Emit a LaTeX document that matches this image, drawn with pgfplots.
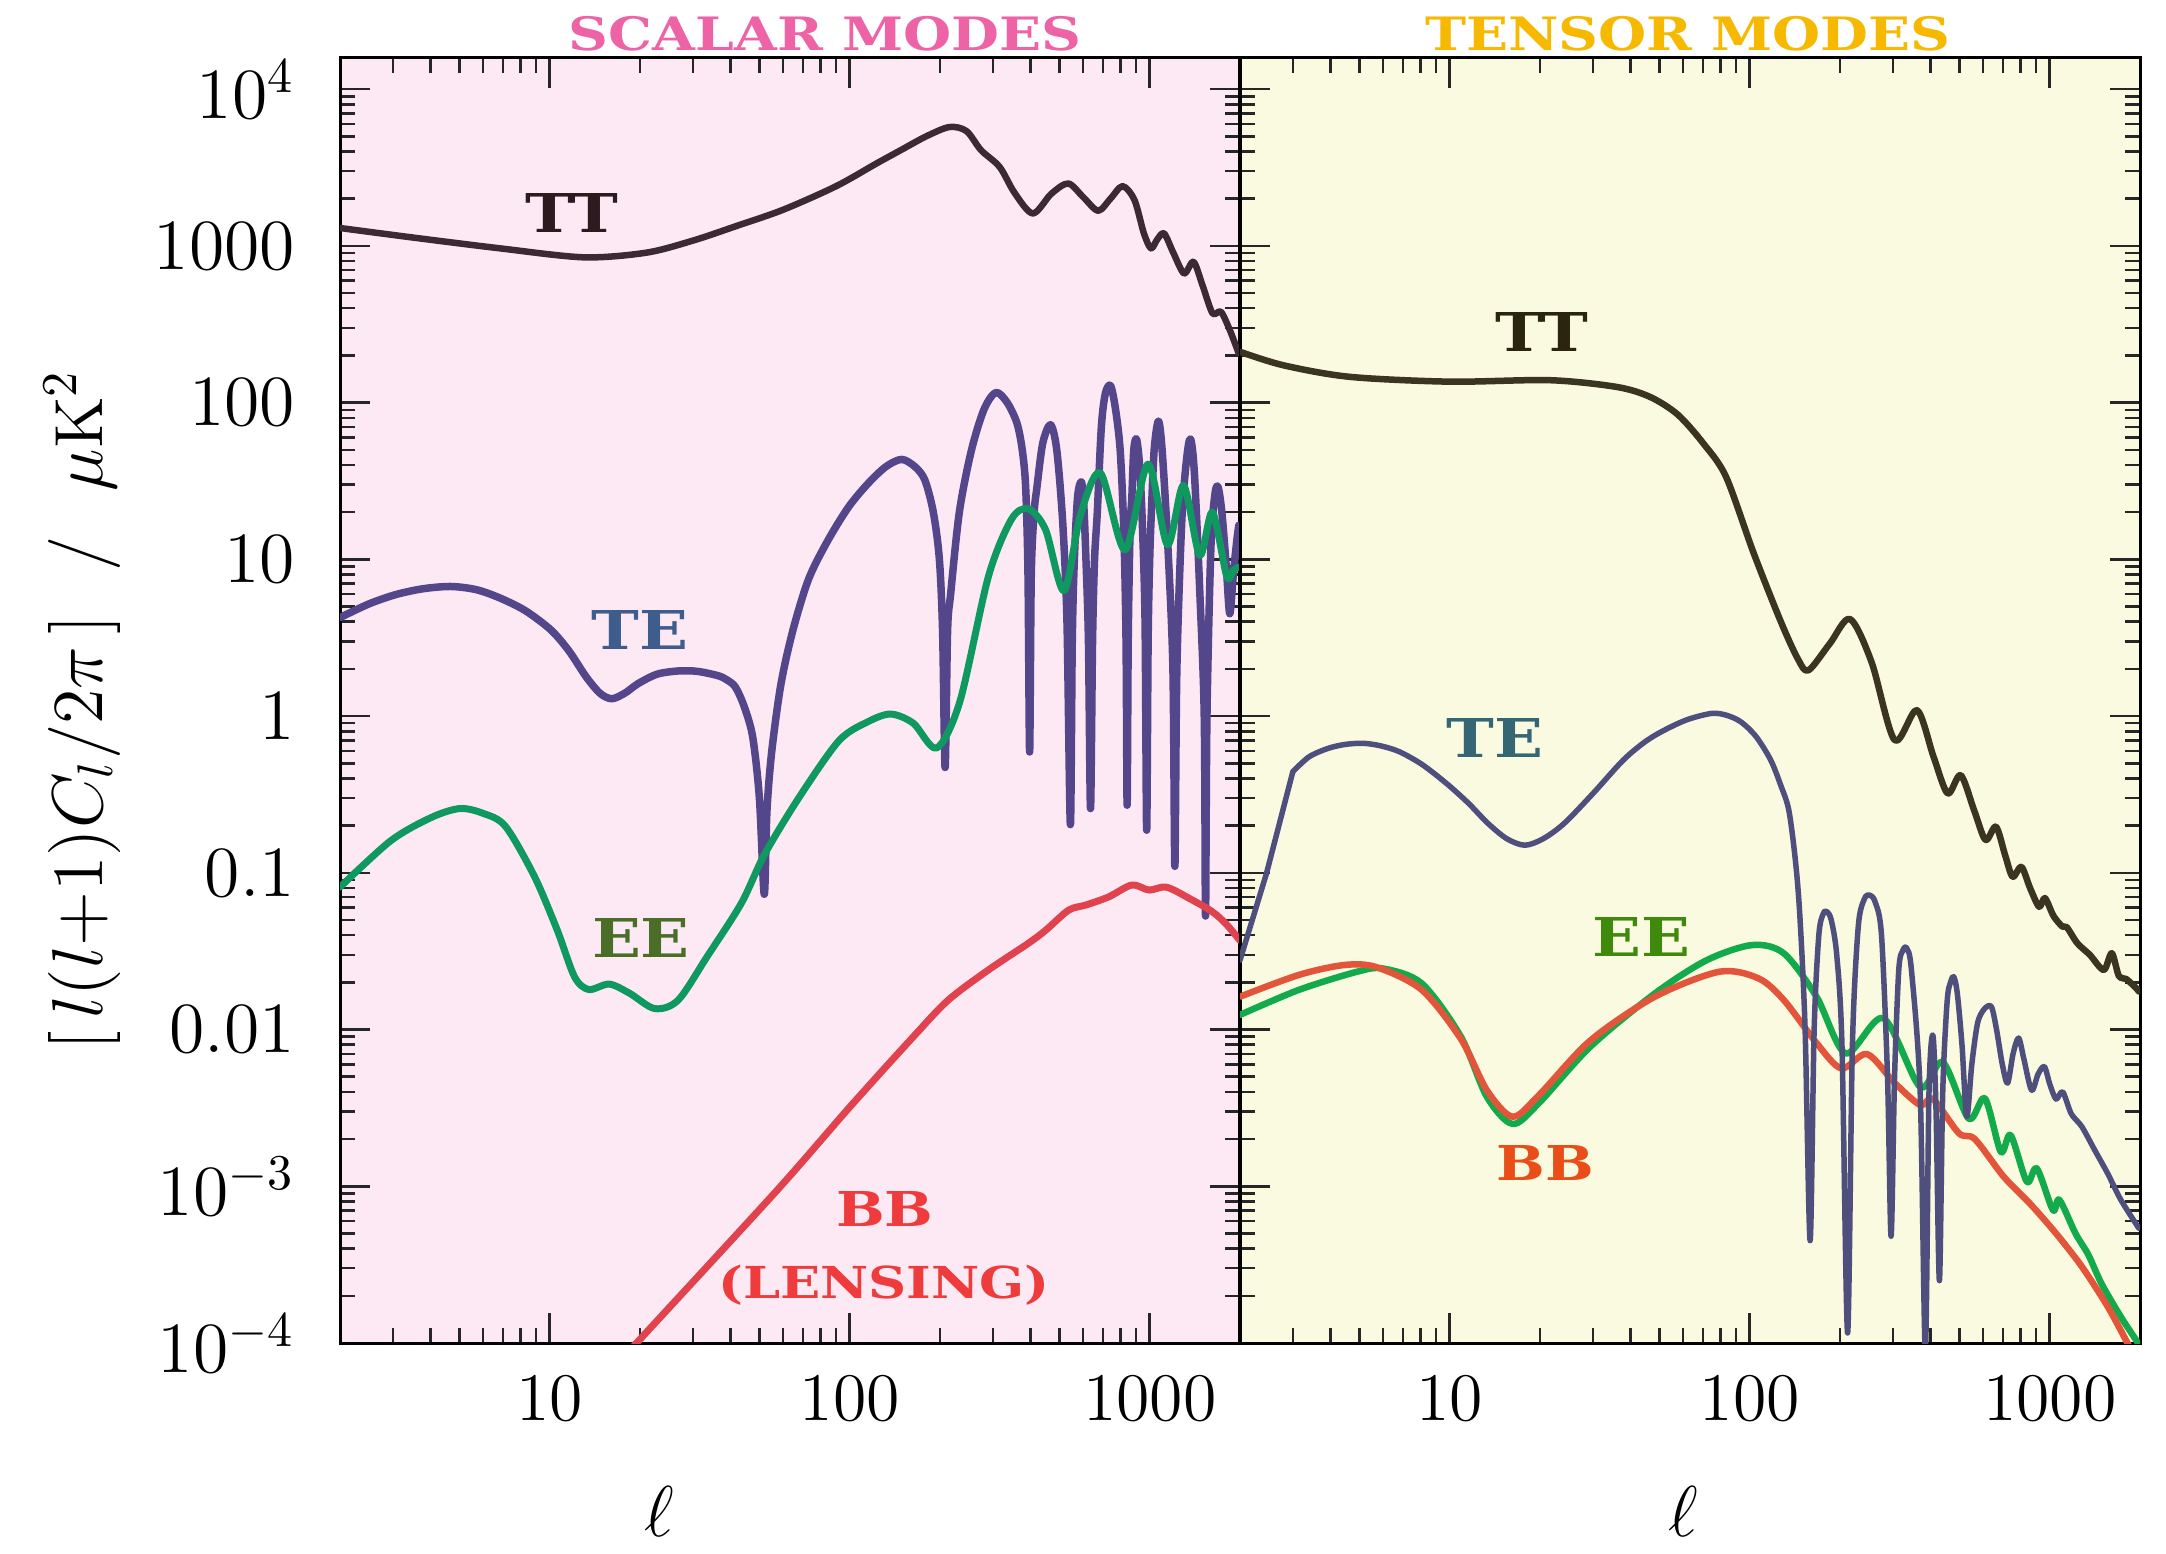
\documentclass[border=0pt]{standalone}
\usepackage{fontspec}
\usepackage{pgfplots}
\pgfplotsset{compat=1.18}
\newfontfamily\labfont[FakeStretch=1.2]{DejaVu Serif}

\definecolor{pinkbg}{HTML}{FDE9F4}
\definecolor{yellowbg}{HTML}{FAFAE0}
\definecolor{ttL}{HTML}{3B2A33}
\definecolor{teL}{HTML}{54468A}
\definecolor{eeL}{HTML}{0F9960}
\definecolor{bbL}{HTML}{E0424E}
\definecolor{ttR}{HTML}{3A3420}
\definecolor{teR}{HTML}{4F4F7E}
\definecolor{eeR}{HTML}{12AA4A}
\definecolor{bbR}{HTML}{E2553A}
\definecolor{labTTL}{HTML}{2B1A1E}
\definecolor{labTEL}{HTML}{3E5C8C}
\definecolor{labEEL}{HTML}{4A6E28}
\definecolor{labBBL}{HTML}{EE3B3B}
\definecolor{labTTR}{HTML}{2B2510}
\definecolor{labTER}{HTML}{366674}
\definecolor{labEER}{HTML}{3F8A0C}
\definecolor{labBBR}{HTML}{EA4E18}
\definecolor{scalarc}{HTML}{EE62A6}
\definecolor{tensorc}{HTML}{F6B900}

\pgfplotsset{every axis/.append style={
    tick align=inside, tick pos=both,
    major tick length=6pt, minor tick length=3pt,
    axis line style={line width=0.6pt, black},
    tick style={line width=0.5pt, black!85},
    ticklabel style={font=\fontsize{13.6}{16}\selectfont},
    xticklabel style={yshift=-3pt},
    yticklabel style={xshift=-5.5pt},
  },
  every axis plot/.append style={line join=round, line cap=round},
}

\begin{document}
\begin{tikzpicture}
\useasboundingbox (0,0) rectangle (433.2pt,310.6pt);

% scalar modes
\begin{axis}[at={(68pt,42pt)}, anchor=south west,
  scale only axis, width=180pt, height=257pt,
  xmode=log, ymode=log,
  xmin=2, xmax=2000, ymin=1e-4, ymax=15800,
  xtick={10,100,1000}, xticklabels={10,100,1000},
  minor xtick={2,3,4,5,6,7,8,9,20,30,40,50,60,70,80,90,200,300,400,500,600,700,800,900},
  ytick={1e-4,1e-3,0.01,0.1,1,10,100,1000,1e4},
  minor ytick={2e-4,3e-4,4e-4,5e-4,6e-4,7e-4,8e-4,9e-4,
    0.002,0.003,0.004,0.005,0.006,0.007,0.008,0.009,
    0.02,0.03,0.04,0.05,0.06,0.07,0.08,0.09,
    0.2,0.3,0.4,0.5,0.6,0.7,0.8,0.9,
    2,3,4,5,6,7,8,9,20,30,40,50,60,70,80,90,
    200,300,400,500,600,700,800,900,2000,3000,4000,5000,6000,7000,8000,9000},
  axis background/.style={fill=pinkbg},
  yticklabels={$10^{-4}$,$10^{-3}$,$0.01$,$0.1$,$1$,$10$,$100$,$1000$,$10^{4}$}]
\addplot[color=ttL, line width=1.3pt, smooth] coordinates {
(2,1300)(3.5,1130)(6.8,965)(13,845)(21,905)(30,1080)(42,1340)(60,1700)(90,2400)
(123,3360)(148,4080)(180,5000)(215,5730)(245,5400)(274,4080)(316,3190)(355,2170)
(408,1610)(470,2150)(535,2500)(600,2050)(673,1675)(740,2000)(812,2405)(890,1960)
(956,1205)(1010,964)(1060,1100)(1117,1200)(1200,900)(1302,667)(1400,791)(1500,560)
(1620,371)(1727,380)(1850,290)(1982,205)};
\addplot[color=teL, line width=1.5pt, smooth, tension=0.5] coordinates {
(2,4.25)(2.5,5.2)(3.08,5.97)(3.8,6.5)(4.69,6.71)(5.7,6.4)(6.82,5.67)(8.3,4.7)
(10.1,3.54)(11.6,2.6)(13.2,1.79)(14.7,1.4)(16.1,1.29)(17.8,1.4)(19.7,1.61)(22.8,1.85)
(26.8,1.94)(31,1.93)(36.4,1.81)(39,1.7)(41.6,1.53)(44.5,1.15)(47.5,0.734)(50,0.3)
(51.9,0.073)(53,0.25)(55,0.6)(59,1.6)(64.7,3.54)(73,7.5)(84.4,13.1)(99,21.5)
(115,30.4)(132,39)(149,43.4)(165,39)(178,32.1)(190,20)(199,10.1)(204,3.5)(208,0.47)
(212,3.5)(217,6.0)(232,20)(254,48.8)(280,90)(307,116)(335,100)(361,74)(376,50)
(386,28.9)(393,8)(398,0.59)(403,8)(412,20)(421,28.9)(440,55)(467,72.3)(490,50)
(513,17.1)(530,4)(544,0.203)(552,3)(561,10.1)(575,25)(592,31.2)(603,22)(613,10.1)
(625,3)(635,0.257)(645,3)(655,10)(669,20)(690,70)(712,115)(741,128)(770,90)
(798,48.8)(820,15)(834,3)(841,0.27)(848,3)(860,15)(872,25)(885,50)(904,58.5)
(925,40)(945,17)(965,4)(977,0.187)(988,3)(1000,10)(1013,20)(1035,50)(1069,76.2)
(1100,50)(1150,12)(1195,2)(1213,0.11)(1232,2)(1280,18)(1330,45)(1369,58.5)
(1410,35)(1470,6)(1520,1)(1535,0.053)(1552,1)(1600,12)(1650,26)(1690,28.9)
(1740,20)(1800,9)(1849,4.5)(1900,8)(1950,13)(1982,16.5)};
\addplot[color=eeL, line width=1.4pt, smooth] coordinates {
(2,0.081)(2.95,0.16)(4.02,0.225)(5.01,0.257)(5.98,0.24)(7.12,0.198)(8.89,0.095)
(10.6,0.043)(12.1,0.0217)(13.5,0.018)(15.8,0.0195)(18.5,0.017)(22.4,0.0136)
(26.8,0.0154)(33.4,0.029)(43.5,0.0638)(51.9,0.13)(67.6,0.3)(92,0.695)(115,0.92)
(137,1.03)(163,0.9)(195,0.626)(233,1.24)(290,7.77)(346,18)(394,21)(450,15.4)
(518,6.3)(587,19)(685,35.6)(827,11.5)(987,40.5)(1146,12.4)(1296,29.6)(1468,10.6)
(1618,20)(1806,7.8)(1900,8.5)(1982,8.95)};
\addplot[color=bbL, line width=1.4pt, smooth] coordinates {
(19,0.95e-4)(56.6,9.2e-4)(100,3.2e-3)(163,9.0e-3)(213,0.0154)(290,0.024)
(394,0.0355)(450,0.043)(537,0.0578)(613,0.0623)(731,0.0703)(872,0.0836)
(995,0.0776)(1136,0.081)(1355,0.0687)(1618,0.0564)(1800,0.047)(2000,0.037)};
\end{axis}

% tensor modes
\begin{axis}[at={(248pt,42pt)}, anchor=south west,
  scale only axis, width=180pt, height=257pt,
  xmode=log, ymode=log,
  xmin=2, xmax=2000, ymin=1e-4, ymax=15800,
  xtick={10,100,1000}, xticklabels={10,100,1000},
  minor xtick={2,3,4,5,6,7,8,9,20,30,40,50,60,70,80,90,200,300,400,500,600,700,800,900},
  ytick={1e-4,1e-3,0.01,0.1,1,10,100,1000,1e4},
  minor ytick={2e-4,3e-4,4e-4,5e-4,6e-4,7e-4,8e-4,9e-4,
    0.002,0.003,0.004,0.005,0.006,0.007,0.008,0.009,
    0.02,0.03,0.04,0.05,0.06,0.07,0.08,0.09,
    0.2,0.3,0.4,0.5,0.6,0.7,0.8,0.9,
    2,3,4,5,6,7,8,9,20,30,40,50,60,70,80,90,
    200,300,400,500,600,700,800,900,2000,3000,4000,5000,6000,7000,8000,9000},
  axis background/.style={fill=yellowbg},
  yticklabels={}]
\addplot[color=eeR, line width=1.3pt, smooth] coordinates {
(2,0.0124)(3.14,0.0179)(4.92,0.0234)(6.0,0.0245)(8.07,0.0197)(10.9,9.0e-3)
(13.3,3.72e-3)(16.2,2.5e-3)(19.8,3.38e-3)(29.4,7.76e-3)(48.3,0.017)(71.9,0.0277)
(102,0.0346)(130,0.0306)(167,0.0162)(209,7.05e-3)(279,0.0118)(370,4.3e-3)
(440,6.2e-3)(537,2.7e-3)(608,3.64e-3)(687,1.66e-3)(741,2.12e-3)(839,1.07e-3)
(906,1.3e-3)(1025,7.05e-4)(1077,8.2e-4)(1219,5e-4)(1347,3.64e-4)(1487,2.4e-4)
(1726,1.47e-4)(1968,1e-4)(2000,0.9e-4)};
\addplot[color=bbR, line width=1.3pt, smooth] coordinates {
(2,0.0162)(3.14,0.0223)(4.45,0.0258)(5.7,0.025)(8.07,0.0179)(10.9,8.7e-3)
(13.3,4.1e-3)(16.2,2.78e-3)(19.8,3.8e-3)(29.4,8.5e-3)(48.3,0.0162)(79.4,0.0234)
(107,0.0212)(130,0.0154)(167,8.2e-3)(202,5.65e-3)(246,6.98e-3)(303,4.6e-3)
(370,3.3e-3)(408,3.6e-3)(498,2.18e-3)(563,2e-3)(703,1.15e-3)(857,7.8e-4)
(1050,5e-4)(1280,3.07e-4)(1563,1.7e-4)(1816,1e-4)(1900,0.85e-4)};
\addplot[color=teR, line width=1.1pt] coordinates {
(2,0.0277)(2.45,0.099)(3.0,0.442)};
\addplot[color=teR, line width=1.1pt, smooth, tension=0.5] coordinates {
(3.0,0.442)(3.4,0.55)(3.94,0.623)(4.5,0.66)(5.17,0.67)(5.9,0.645)(6.8,0.592)
(8.1,0.49)(9.75,0.372)(11.5,0.28)(13.4,0.207)(15.5,0.165)(17.8,0.15)(20.5,0.165)
(24.1,0.207)(30,0.32)(37.9,0.524)(45,0.69)(52,0.814)(62,0.95)(74.8,1.04)(84,1.01)
(93.7,0.915)(105,0.74)(117.5,0.524)(127,0.36)(135,0.251)(142,0.12)(147,0.0525)
(153,0.01)(159,4.5e-4)(164,0.01)(170,0.04)(176,0.055)(181,0.0564)(187,0.05)
(195,0.03)(203,0.008)(212,1.16e-4)(220,0.008)(230,0.045)(241,0.068)(251,0.0721)
(262,0.065)(275,0.04)(288,0.005)(296,4.8e-4)(304,0.005)(314,0.024)(324,0.032)
(334,0.033)(346,0.024)(370,0.004)(385,9e-5)(396,0.004)(408,9.2e-3)(418,0.003)
(429,2.5e-4)(440,0.004)(455,0.015)(467,0.02)(479,0.0217)(492,0.017)(510,0.008)
(529,2.78e-3)(550,0.006)(575,0.011)(605,0.0135)(639,0.014)(665,0.01)(695,0.006)
(724,4.56e-3)(755,0.007)(788,8.83e-3)(820,0.0065)(870,4.1e-3)(915,0.0052)
(960,5.8e-3)(1000,0.0045)(1050,3.6e-3)(1105,4e-3)(1180,2.9e-3)(1280,2.4e-3)
(1413,1.7e-3)(1563,1.2e-3)(1726,8.2e-4)(1982,5.4e-4)};
\addplot[color=ttR, line width=1.3pt, smooth] coordinates {
(2,211)(2.79,173)(4.64,146)(10,136)(21.5,139)(35.9,126)(46.4,109)(57.5,84)(70,55)
(83.4,33.6)(103,11)(127,4.0)(145,2.3)(157,1.96)(185,2.9)(216,4.16)(255,2.2)
(304,0.703)(361,1.09)(410,0.55)(457,0.321)(505,0.42)(560,0.25)(611,0.162)
(662,0.197)(710,0.13)(752,0.0944)(805,0.109)(860,0.08)(922,0.0607)(964,0.069)
(1030,0.053)(1103,0.0453)(1140,0.045)(1237,0.0355)(1360,0.03)(1514,0.024)
(1610,0.0307)(1700,0.022)(1800,0.021)(1946,0.0183)(1982,0.0175)};
\end{axis}

% titles, curve labels, axis labels
\node[text=scalarc, font=\labfont\fontsize{9.2}{10}\selectfont\bfseries] at (165pt,303.8pt) {SCALAR MODES};
\node[text=tensorc, font=\labfont\fontsize{9.2}{10}\selectfont\bfseries] at (337.6pt,303.8pt) {TENSOR MODES};

\node[text=labTTL, font=\labfont\fontsize{10.7}{12}\selectfont\bfseries] at (114.4pt,268pt) {TT};
\node[text=labTEL, font=\labfont\fontsize{10.7}{12}\selectfont\bfseries] at (128pt,184.6pt) {TE};
\node[text=labEEL, font=\labfont\fontsize{10.7}{12}\selectfont\bfseries] at (128.2pt,123pt) {EE};
\node[text=labBBL, font=\labfont\fontsize{9.6}{11}\selectfont\bfseries] at (177pt,68.8pt) {BB};
\node[text=labBBL, font=\labfont\fontsize{8.8}{10}\selectfont\bfseries] at (176.8pt,53.6pt) {(LENSING)};

\node[text=labTTR, font=\labfont\fontsize{10.7}{12}\selectfont\bfseries] at (308.4pt,244.2pt) {TT};
\node[text=labTER, font=\labfont\fontsize{10.7}{12}\selectfont\bfseries] at (299pt,163pt) {TE};
\node[text=labEER, font=\labfont\fontsize{10.7}{12}\selectfont\bfseries] at (328.2pt,123.2pt) {EE};
\node[text=labBBR, font=\labfont\fontsize{9.6}{11}\selectfont\bfseries] at (309pt,78pt) {BB};

\node[inner sep=0pt, font=\fontsize{15}{17}\selectfont] at (131.8pt,8.4pt) {$\ell$};
\node[inner sep=0pt, font=\fontsize{15}{17}\selectfont] at (336.6pt,8.4pt) {$\ell$};
\node[rotate=90, font=\fontsize{13.6}{16}\selectfont] at (16.4pt,168.6pt)
  {$\big[\,l(l{+}1)C_l/2\pi\,\big]\ \ /\ \ \mu\mathrm{K}^2$};
\end{tikzpicture}
\end{document}
